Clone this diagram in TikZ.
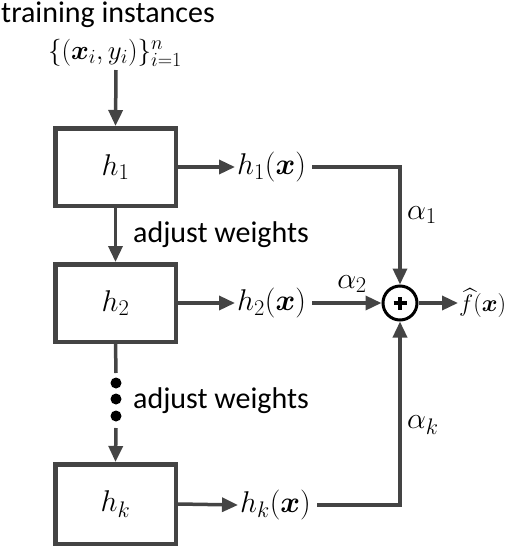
\RequirePackage{fix-cm}
\documentclass[tikz,border=0pt]{standalone}
\usepackage{amsmath,bm}
\usepackage{fontspec}
\newfontfamily\calib{Carlito}
\usetikzlibrary{arrows.meta}
\DeclareMathSizes{30}{30}{22.5}{16}
\DeclareMathSizes{27}{27}{20}{15}
\DeclareMathSizes{24}{24}{18}{13}
\definecolor{lc}{HTML}{444444}
\tikzset{
  x=1pt,y=-1pt,
  hbox/.style={draw=lc,line width=4.5pt,minimum width=120.5pt,minimum height=77.5pt,inner sep=0pt,font=\fontsize{30}{32}\selectfont},
  mlab/.style={inner sep=2pt,font=\fontsize{30}{32}\selectfont},
  tlab/.style={inner sep=0pt,font=\calib\fontsize{30}{32}\selectfont},
  conn/.style={draw=lc,line width=3.5pt},
  arr/.style={conn,-{Triangle[length=16pt,width=14pt]}},
}
\begin{document}
\begin{tikzpicture}
\useasboundingbox (0,0) rectangle (507,550);
\node[tlab,anchor=base west] (ti) at (1,22) {training instances};
\node[mlab,font=\fontsize{27}{29}\selectfont] (data) at (115,53) {$\{(\bm{x}_i,y_i)\}_{i=1}^{n}$};
\coordinate (din) at (116,70);
\node[hbox] (b1) at (115.5,167) {$h_1$};
\node[hbox] (b2) at (115.5,303) {$h_2$};
\node[hbox,minimum height=79.5pt] (bk) at (115.5,504) {$h_k$};
\node[mlab,anchor=west] (o1) at (235,167) {$h_1(\bm{x})$};
\node[mlab,anchor=west] (o2) at (235,303) {$h_2(\bm{x})$};
\node[mlab,anchor=west] (ok) at (238,505) {$h_k(\bm{x})$};
\node[circle,draw=black,line width=3pt,minimum size=34pt,inner sep=0pt] (c) at (400,303) {};
\draw[line width=3.2pt,black] ([xshift=-6.5pt]c.center) -- ([xshift=6.5pt]c.center) ([yshift=-6.5pt]c.center) -- ([yshift=6.5pt]c.center);
\node[mlab,anchor=west,inner sep=1pt,font=\fontsize{24}{26}\selectfont] (fh) at (458,303) {$\widehat{f}(\bm{x})$};
\coordinate (t1) at (400,167);
\coordinate (tk) at (400,505);
\coordinate (s1) at (116,373);
\coordinate (s2) at (116,428);

\draw[arr] (din) -- (b1.north);
\draw[arr] (b1.east) -- (o1.west);
\draw[arr] (b2.east) -- (o2.west);
\draw[arr] (bk.east) -- (ok.west);
\draw[arr] (b1.south) -- (b2.north);
\draw[conn] (b2.south) -- (s1);
\draw[arr] (s2) -- (bk.north);
\foreach \yy in {383,399,416} \fill[black] (116,\yy) circle (5.5pt);
\draw[conn,-{Triangle[length=16pt,width=14pt]}] ([xshift=4pt]o1.east) -- (t1) -- (c.north);
\draw[arr] ([xshift=4pt]o2.east) -- (c.west);
\draw[conn,-{Triangle[length=16pt,width=14pt]}] ([xshift=4pt]ok.east) -- (tk) -- (c.south);
\draw[arr] (c.east) -- (fh.west);

\node[tlab,anchor=west] (aw1) at (133,235) {adjust weights};
\node[tlab,anchor=west] (aw2) at (133,401) {adjust weights};
\node[mlab,anchor=west] (a1) at (405,215) {$\alpha_1$};
\node[mlab] (a2) at (352,284) {$\alpha_2$};
\node[mlab,anchor=west] (ak) at (405,425) {$\alpha_k$};
\end{tikzpicture}
\end{document}
